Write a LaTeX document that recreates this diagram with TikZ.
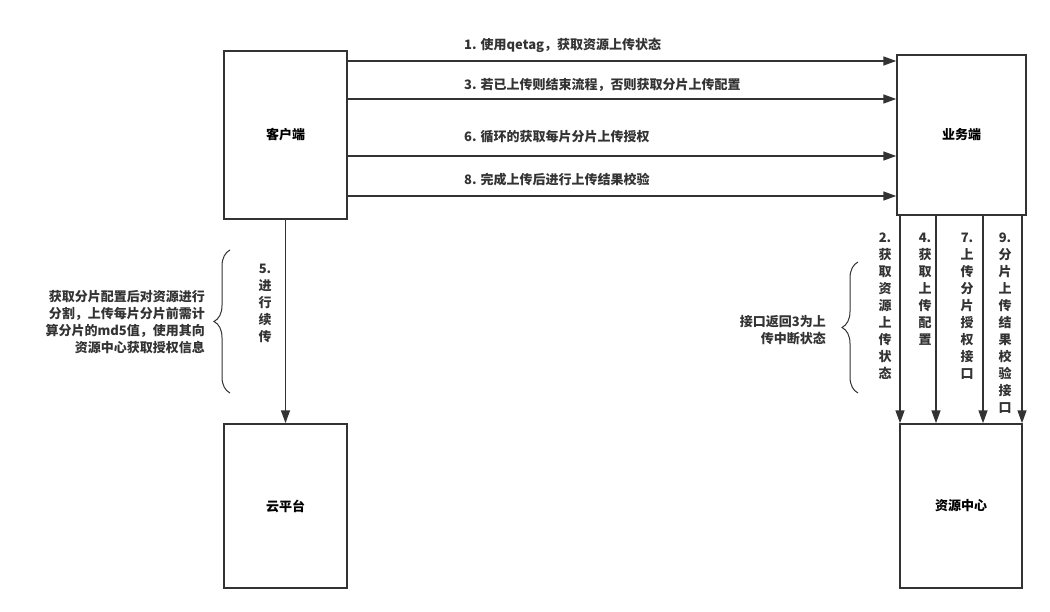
\documentclass[tikz,border=0pt]{standalone}
\usepackage{fontspec}
\setmainfont{Noto Sans CJK SC}
\usetikzlibrary{arrows.meta,decorations.pathreplacing}
\definecolor{linegray}{HTML}{333333}
\tikzset{
    box/.style={draw=linegray, line width=1.5pt, inner sep=0pt, fill=white},
    flow/.style={draw=linegray, line width=1.5pt, -{Triangle[length=13pt,width=9pt]}},
    note/.style={inner sep=0pt, text=linegray},
    curly/.style={draw=linegray, line width=1pt, decorate, decoration={brace, amplitude=16pt}}
}

\begin{document}
\begin{tikzpicture}[x=1pt, y=-1pt, font=\fontsize{13}{17}\selectfont\bfseries]
        \useasboundingbox (0,0) rectangle (1050,612);
        % Boxes
        \node[box, minimum width=123pt, minimum height=168pt] (client) at (285.5,135) {客户端};
        \node[box, minimum width=129pt, minimum height=160pt] (service) at (961.5,135) {业务端};
        \node[box, minimum width=123pt, minimum height=164pt] (cloud) at (285.5,506) {云平台};
        \node[box, minimum width=122pt, minimum height=164pt] (resource) at (961,506) {资源中心};
        % Client to service
        \foreach \y/\ly/\txt [count=\i] in {61/45/{1. 使用qetag，获取资源上传状态},
                99/85/{3. 若已上传则结束流程，否则获取分片上传配置},
                156/137/{6. 循环的获取每片分片上传授权},
                196/180/{8. 完成上传后进行上传结果校验}} {
            \draw[flow] (client.east |- 0,\y) -- (service.west |- 0,\y);
            \node[note, anchor=west] (req\i) at (464,\ly) {\txt};
        }
        % Client to cloud
        \draw[flow] (client.south) -- (cloud.north);
        \node[note, anchor=north, align=center] (resume) at (265,264) {5.\\进\\行\\续\\传};
        \coordinate (lbtop) at (230,250);
        \coordinate (lbbot) at (230,393);
        \draw[curly] (lbbot) -- (lbtop);
        \node[note, anchor=east, align=right] (split) at (205,322)
            {获取分片配置后对资源进行\\分割，上传每片分片前需计\\算分片的md5值，使用其向\\资源中心获取授权信息};
        % Service to resource
        \foreach \x/\lx/\txt [count=\i] in {900/885/{2.\\获\\取\\资\\源\\上\\传\\状\\态},
                936/925/{4.\\获\\取\\上\\传\\配\\置},
                983/967/{7.\\上\\传\\分\\片\\授\\权\\接\\口},
                1022/1005/{9.\\分\\片\\上\\传\\结\\果\\校\\验\\接\\口}} {
            \draw[flow] (\x,0 |- service.south) -- (\x,0 |- resource.north);
            \node[note, anchor=north, align=center] (api\i) at (\lx,233) {\txt};
        }
        \coordinate (rbtop) at (858,262);
        \coordinate (rbbot) at (858,393);
        \draw[curly] (rbbot) -- (rbtop);
        \node[note, anchor=east, align=right] (broken) at (826,330.5) {接口返回3为上\\传中断状态};
    \end{tikzpicture}
\end{document}
